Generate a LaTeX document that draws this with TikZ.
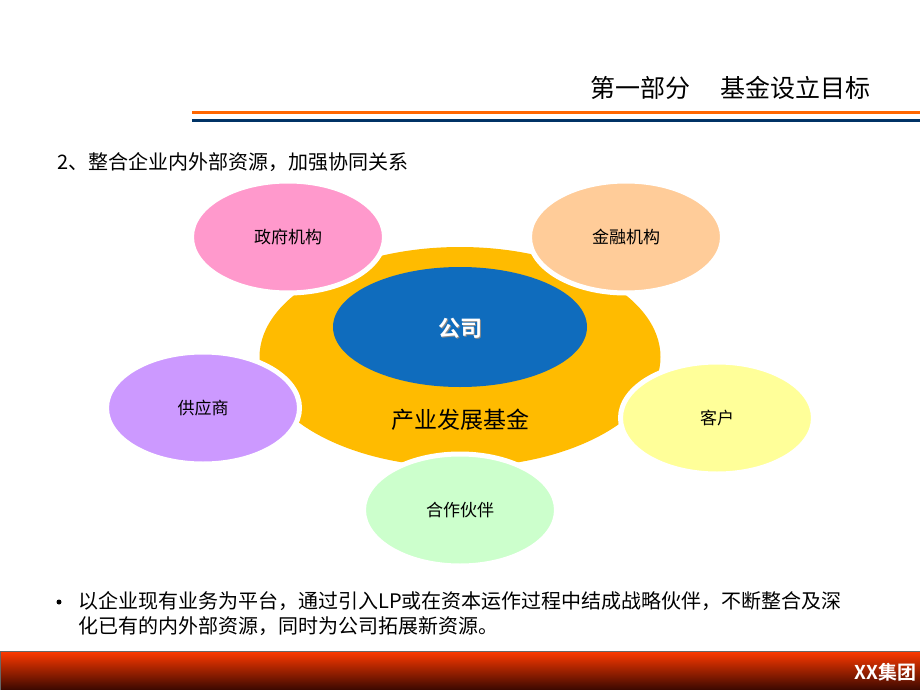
\documentclass[tikz,border=0pt]{standalone}
\usepackage{fontspec}
\usetikzlibrary{shapes.geometric}
\newfontfamily\cjk{Noto Sans CJK SC}
\newfontfamily\cjkb{Noto Sans CJK SC Bold}
\definecolor{cpink}{HTML}{FF99CC}
\definecolor{csalmon}{HTML}{FFCC99}
\definecolor{cpurple}{HTML}{CC99FF}
\definecolor{cyellow}{HTML}{FFFF99}
\definecolor{cgreen}{HTML}{CCFFCC}
\definecolor{corange}{HTML}{FFBB00}
\definecolor{cblue}{HTML}{0F6CBD}
\definecolor{lineorange}{HTML}{FF6600}
\definecolor{lineblue}{HTML}{003366}
\definecolor{bartop}{HTML}{FF3A00}
\definecolor{barmid}{HTML}{D02800}
\definecolor{barbot}{HTML}{3A0800}
\tikzset{
  outer/.style={ellipse, draw=white, line width=5pt, inner sep=0pt,
    minimum width=193pt, minimum height=112pt, font=\cjk\fontsize{17}{17}\selectfont, text=black},
}
\begin{document}
\begin{tikzpicture}[x=1pt,y=-1pt]
\useasboundingbox (0,0) rectangle (920,690);
% header
\node[anchor=east, inner sep=0pt, font=\cjk\fontsize{25}{25}\selectfont] (title) at (871,88) {第一部分\hspace{30pt}基金设立目标};
\coordinate (lo1) at (192,113); \coordinate (lo2) at (920,113);
\coordinate (lb1) at (192,120.3); \coordinate (lb2) at (920,120.3);
\draw[lineorange, line width=3pt] (lo1) -- (lo2);
\draw[lineblue, line width=2.7pt] (lb1) -- (lb2);
\node[anchor=west, inner sep=0pt, font=\cjk\fontsize{20}{20}\selectfont] (sub) at (57,162) {2、整合企业内外部资源，加强协同关系};
% central
\node[ellipse, fill=corange, inner sep=0pt, minimum width=401pt, minimum height=220pt] (fund) at (460,357) {};
\node[ellipse, fill=cblue, inner sep=0pt, minimum width=254pt, minimum height=120pt] (company) at (460,327) {};
\node[font=\cjkb\fontsize{22}{22}\selectfont, text=black!45] (compsh) at (461.5,329.5) {公司};
\node[font=\cjkb\fontsize{22}{22}\selectfont, text=white] (comp) at (460,328) {公司};
\node[font=\cjk\fontsize{23}{23}\selectfont] (fundlabel) at (460,420) {产业发展基金};
% outer ellipses
\node[outer, fill=cpink] (gov) at (288,237) {政府机构};
\node[outer, fill=csalmon] (fin) at (626,237) {金融机构};
\node[outer, fill=cpurple] (sup) at (203,408) {供应商};
\node[outer, fill=cyellow] (cust) at (717,418) {客户};
\node[outer, fill=cgreen] (part) at (460,510) {合作伙伴};
% bullet
\node[circle, fill=black, inner sep=0pt, minimum size=5pt] (bul) at (59,602) {};
\node[anchor=north west, inner sep=0pt, align=left, font=\cjk\fontsize{20}{25}\selectfont] (btext) at (78,591)
  {以企业现有业务为平台，通过引入LP或在资本运作过程中结成战略伙伴，不断整合及深\\化已有的内外部资源，同时为公司拓展新资源。};
% footer bar
\shade[top color=bartop, middle color=barmid, bottom color=barbot] (0,651) rectangle (920,690);
\draw[black!60, line width=0.8pt] (0,690) -- (0,651) -- (920,651);
\node[anchor=east, inner sep=0pt, text=white, font=\cjkb\fontsize{19}{19}\selectfont] (group) at (917,672) {XX集团};
\end{tikzpicture}
\end{document}
